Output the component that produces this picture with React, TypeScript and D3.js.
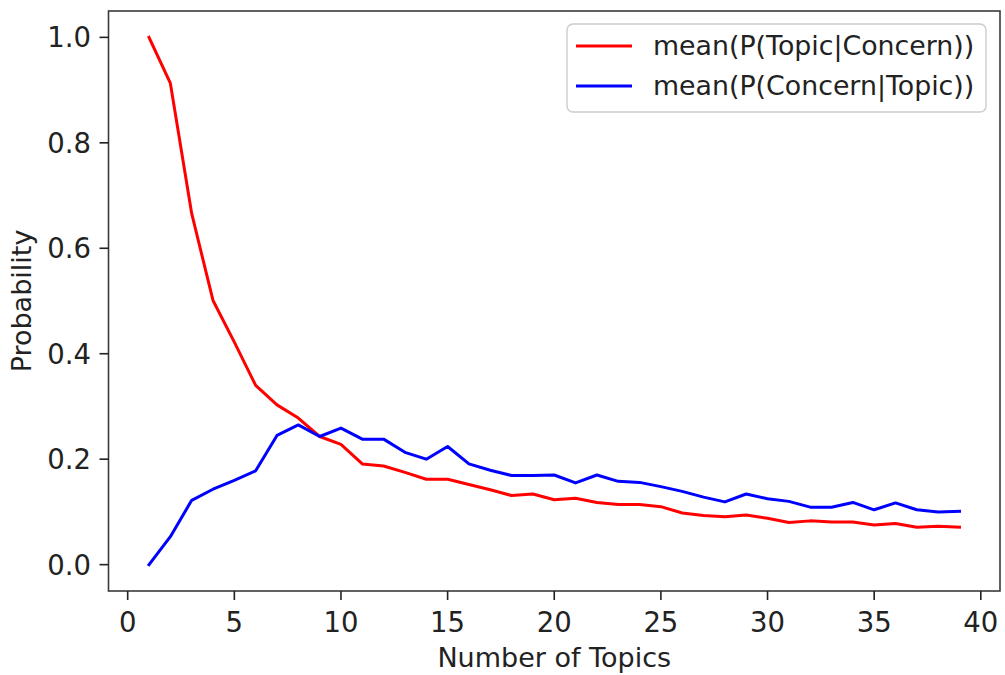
import React from "react";
import * as d3 from "d3";

const topics: number[] = Array.from({ length: 39 }, (_, i) => i + 1);

const topicGivenConcern: number[] = [
  1.0, 0.913, 0.666, 0.501, 0.422, 0.34, 0.303, 0.278, 0.243, 0.228,
  0.191, 0.187, 0.175, 0.162, 0.162, 0.152, 0.142, 0.131, 0.134, 0.123,
  0.126, 0.118, 0.114, 0.114, 0.11, 0.098, 0.093, 0.091, 0.094, 0.088,
  0.08, 0.083, 0.081, 0.081, 0.075, 0.078, 0.071, 0.073, 0.071,
];

const concernGivenTopic: number[] = [
  0.0, 0.053, 0.122, 0.143, 0.16, 0.178, 0.245, 0.265, 0.243, 0.259,
  0.238, 0.238, 0.213, 0.2, 0.224, 0.191, 0.179, 0.169, 0.169, 0.17,
  0.155, 0.17, 0.158, 0.156, 0.148, 0.139, 0.128, 0.119, 0.134, 0.125,
  0.12, 0.109, 0.109, 0.118, 0.104, 0.117, 0.104, 0.1, 0.101,
];

const xTicks: number[] = [0, 5, 10, 15, 20, 25, 30, 35, 40];
const yTicks: number[] = [0, 0.2, 0.4, 0.6, 0.8, 1.0];

const seriesNames: string[] = ["mean(P(Topic|Concern))", "mean(P(Concern|Topic))"];
const seriesColors: string[] = ["#ff0000", "#0000ff"];

const W = 1005;
const H = 675;
const left = 108.5;
const right = 1000;
const top = 11;
const bottom = 591;
const FONT = "'DejaVu Sans', sans-serif";

export default function App() {
  const x = d3.scaleLinear().domain([-0.9, 40.9]).range([left, right]);
  const y = d3.scaleLinear().domain([-0.05, 1.05]).range([bottom, top]);
  const line = d3
    .line<[number, number]>()
    .x((d) => x(d[0]))
    .y((d) => y(d[1]));

  const series = [topicGivenConcern, concernGivenTopic];

  return (
    <svg
      width={W}
      height={H}
      style={{ position: "absolute", left: 0, top: 0, background: "#fff" }}
    >
      <rect x={0} y={0} width={W} height={H} fill="#fff" />
      {series.map((vals, si) => (
        <path
          key={si}
          d={line(topics.map((t, i) => [t, vals[i]] as [number, number])) || ""}
          fill="none"
          stroke={seriesColors[si]}
          strokeWidth={3}
          strokeLinejoin="round"
          strokeLinecap="square"
        />
      ))}
      {/* frame */}
      <rect
        x={left}
        y={top}
        width={right - left}
        height={bottom - top}
        fill="none"
        stroke="#3a3a3a"
        strokeWidth={1.6}
      />
      {/* x ticks */}
      {xTicks.map((t) => (
        <g key={"x" + t}>
          <line x1={x(t)} x2={x(t)} y1={bottom} y2={bottom + 9} stroke="#222" strokeWidth={1.6} />
          <text
            x={x(t)}
            y={631.5}
            textAnchor="middle"
            fontFamily={FONT}
            fontSize={27.5}
            fill="#222"
          >
            {t}
          </text>
        </g>
      ))}
      {/* y ticks */}
      {yTicks.map((t) => (
        <g key={"y" + t}>
          <line x1={left - 9} x2={left} y1={y(t)} y2={y(t)} stroke="#222" strokeWidth={1.6} />
          <text
            x={91}
            y={y(t) + 10}
            textAnchor="end"
            fontFamily={FONT}
            fontSize={27.5}
            fill="#222"
          >
            {t.toFixed(1)}
          </text>
        </g>
      ))}
      <text
        x={(left + right) / 2}
        y={667}
        textAnchor="middle"
        fontFamily={FONT}
        fontSize={27}
        fill="#222"
      >
        Number of Topics
      </text>
      <text
        transform={`translate(31, ${(top + bottom) / 2}) rotate(-90)`}
        textAnchor="middle"
        fontFamily={FONT}
        fontSize={27}
        fill="#222"
      >
        Probability
      </text>
      {/* legend */}
      <rect
        x={567}
        y={24}
        width={419}
        height={88}
        rx={6}
        ry={6}
        fill="#fff"
        fillOpacity={0.8}
        stroke="#cccccc"
        strokeWidth={1.4}
      />
      {seriesNames.map((name, i) => (
        <g key={name}>
          <line
            x1={576}
            x2={632}
            y1={46 + i * 40}
            y2={46 + i * 40}
            stroke={seriesColors[i]}
            strokeWidth={3}
          />
          <text
            x={653}
            y={55 + i * 40}
            fontFamily={FONT}
            fontSize={26.8}
            fill="#222"
          >
            {name}
          </text>
        </g>
      ))}
    </svg>
  );
}
